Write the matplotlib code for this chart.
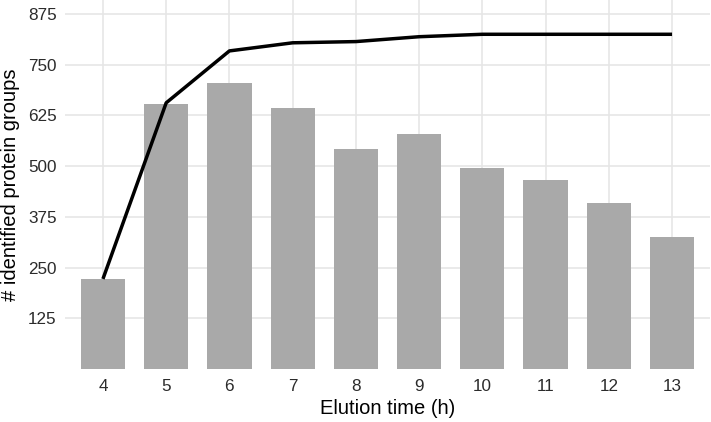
import matplotlib
matplotlib.use('Agg')
import matplotlib.pyplot as plt

plt.rcParams['font.family'] = ['Liberation Sans', 'DejaVu Sans']

# elution time (h) and protein groups per fraction / cumulative
hours = ['4', '5', '6', '7', '8', '9', '10', '11', '12', '13']
per_fraction = [222, 652, 704, 643, 543, 579, 495, 465, 408, 325]
cumulative = [222, 656, 784, 804, 807, 819, 825, 825, 825, 825]
y_ticks = [125, 250, 375, 500, 625, 750, 875]

fig = plt.figure(figsize=(7.11, 4.22), dpi=100)
ax = fig.add_axes([65 / 711, 53 / 422, 645 / 711, 369 / 422])

pos = range(len(hours))
ax.bar(pos, per_fraction, width=0.7, color='#a9a9a9', zorder=2)
ax.plot(pos, cumulative, color='black', lw=2.5, zorder=3, solid_capstyle='butt')

ax.set_xlim(-0.6, len(hours) - 0.4)
ax.set_ylim(0, 909.5)
ax.set_xticks(list(pos))
ax.set_xticklabels(hours)
ax.set_yticks(y_ticks)

ax.grid(True, color='#e6e6e6', lw=1.2, zorder=0)
ax.set_axisbelow(True)
for s in ax.spines.values():
    s.set_visible(False)
ax.tick_params(length=0, labelsize=12.3, labelcolor='#2b2b2b')
ax.tick_params(axis='x', pad=7)
ax.tick_params(axis='y', pad=6)

ax.set_xlabel('Elution time (h)', fontsize=14.5, labelpad=4)
ax.set_ylabel('# identified protein groups', fontsize=14.5, labelpad=6)

fig.savefig('out.png', dpi=100)
